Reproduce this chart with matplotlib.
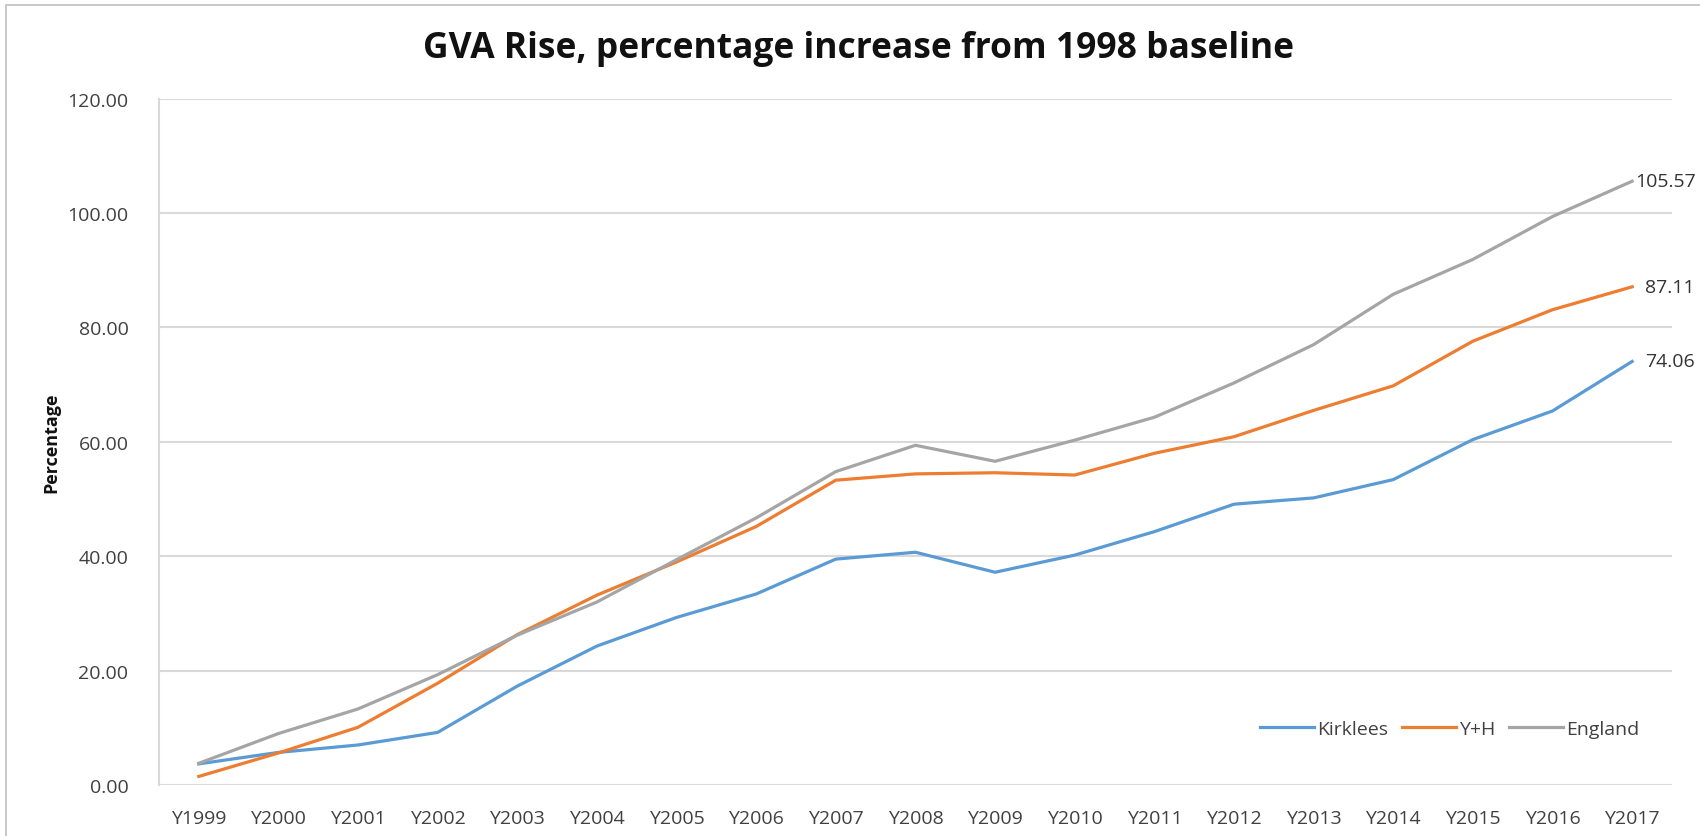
import matplotlib.pyplot as plt
from matplotlib.lines import Line2D

plt.rcParams['font.family'] = ['Open Sans', 'DejaVu Sans']

# categories and series (percentage rise from the 1998 baseline)
years = ['Y1999', 'Y2000', 'Y2001', 'Y2002', 'Y2003', 'Y2004', 'Y2005', 'Y2006',
         'Y2007', 'Y2008', 'Y2009', 'Y2010', 'Y2011', 'Y2012', 'Y2013', 'Y2014',
         'Y2015', 'Y2016', 'Y2017']
kirklees = [3.7, 5.7, 7.0, 9.2, 17.3, 24.3, 29.3, 33.4, 39.5, 40.7, 37.2, 40.2,
            44.3, 49.1, 50.2, 53.4, 60.4, 65.4, 74.06]
yh = [1.5, 5.6, 10.1, 17.8, 26.3, 33.2, 39.0, 45.2, 53.3, 54.4, 54.6, 54.2,
      58.0, 60.9, 65.5, 69.8, 77.6, 83.1, 87.11]
england = [3.8, 9.0, 13.3, 19.3, 26.2, 32.0, 39.4, 46.7, 54.8, 59.4, 56.6, 60.3,
           64.3, 70.3, 77.0, 85.8, 91.9, 99.4, 105.57]

series = [('Kirklees', kirklees, '#5B9BD5'),
          ('Y+H', yh, '#ED7D31'),
          ('England', england, '#A5A5A5')]

fig = plt.figure(figsize=(17, 8.37), dpi=100)
ax = fig.add_axes([0.0935, 0.0609, 0.890, 0.820])

# outer chart frame (only left and top edges are visible in the crop)
frame = plt.Rectangle((6 / 1700, -0.1), 1.2, 1 - 6 / 837 + 0.1, transform=fig.transFigure,
                      fill=False, edgecolor='#BFBFBF', linewidth=1.2, zorder=0)
fig.patches.append(frame)

x = list(range(len(years)))
for name, vals, color in series:
    ax.plot(x, vals, color=color, linewidth=2.3, label=name, solid_joinstyle='round')

# value labels at the last point
label_dx = {'Kirklees': 9, 'Y+H': 9, 'England': 2}
for name, vals, color in series:
    ax.annotate(f'{vals[-1]:.2f}', (x[-1], vals[-1]), xytext=(label_dx[name], 0),
                textcoords='offset points', va='center', ha='left',
                fontsize=14, color='#333333', annotation_clip=False)

ax.set_xlim(-0.5, len(years) - 0.5)
ax.set_ylim(0, 120)
ax.set_yticks(range(0, 121, 20))
ax.set_yticklabels([f'{v:.2f}' for v in range(0, 121, 20)])
ax.set_xticks(x)
ax.set_xticklabels(years)

ax.grid(axis='y', color='#D9D9D9', linewidth=1.5)
ax.set_axisbelow(True)
for s in ['top', 'right', 'bottom']:
    ax.spines[s].set_visible(False)
ax.spines['left'].set_color('#D9D9D9')
ax.spines['left'].set_linewidth(1.5)
ax.tick_params(length=0, labelsize=14, colors='#404040')
ax.tick_params(axis='y', pad=22)
ax.tick_params(axis='x', pad=17)

ax.set_ylabel('Percentage', fontsize=13, fontweight='bold', color='#111111')
ax.yaxis.set_label_coords(-0.065, 0.5)

fig.text(0.505, 0.941, 'GVA Rise, percentage increase from 1998 baseline',
         ha='center', va='center', fontsize=25.5, fontweight='bold', color='#111111')

handles = [Line2D([], [], color=c, linewidth=2.3) for _, _, c in series]
ax.legend(handles, [n for n, _, _ in series], loc='center', bbox_to_anchor=(0.853, 0.0816),
          ncol=3, frameon=False, fontsize=14, handlelength=2.8, handletextpad=0.15,
          columnspacing=0.7, labelcolor='#404040')

fig.savefig('out.png', dpi=100)
